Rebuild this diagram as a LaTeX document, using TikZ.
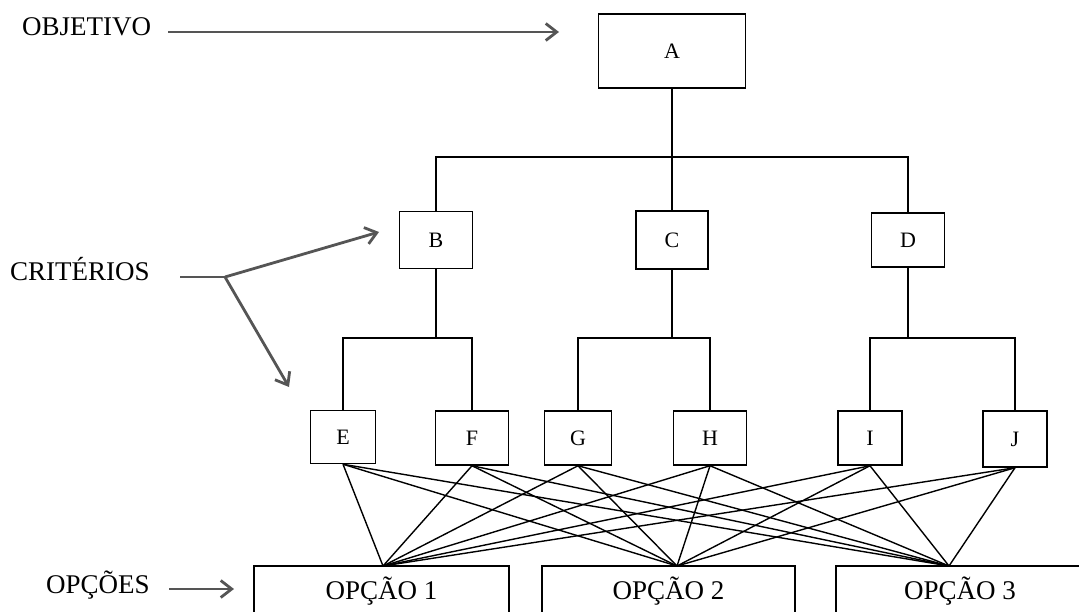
\documentclass[tikz,border=0pt]{standalone}
\usepackage{fontspec}
\setmainfont{Liberation Serif}
\usetikzlibrary{arrows.meta}
\definecolor{pointergray}{HTML}{555555}
\begin{document}
\begin{tikzpicture}[x=1pt,y=-1pt,
  box/.style={draw=black, line width=1.5pt, inner sep=0pt,
              font=\fontsize{22}{22}\selectfont},
  optbox/.style={draw=black, line width=1.5pt, inner sep=0pt,
              minimum height=50pt, font=\fontsize{27}{27}\selectfont},
  lbl/.style={inner sep=0pt, anchor=base west, font=\fontsize{27}{27}\selectfont},
  link/.style={draw=black, line width=1.5pt},
  pointer/.style={draw=pointergray, line width=2.8pt,
                  -{Straight Barb[length=11pt,width=17pt]}}]
\useasboundingbox (0,0) rectangle (1079,612);
\clip (0,0) rectangle (1079,612);

% goal
\node[box, minimum width=147pt, minimum height=74pt] (A) at (672,51) {A};

% criteria
\node[box, minimum width=73pt, minimum height=57pt] (B) at (436,240) {B};
\node[box, minimum width=72pt, minimum height=58pt] (C) at (672,240) {C};
\node[box, minimum width=73pt, minimum height=54pt] (D) at (908,240) {D};

% sub-criteria
\node[box, minimum width=65pt, minimum height=53pt] (E) at (343,437) {E};
\node[box, minimum width=73pt, minimum height=54pt] (F) at (472,438) {F};
\node[box, minimum width=67pt, minimum height=54pt] (G) at (578,438) {G};
\node[box, minimum width=73pt, minimum height=54pt] (H) at (710,438) {H};
\node[box, minimum width=64pt, minimum height=54pt] (I) at (870,438) {I};
\node[box, minimum width=64pt, minimum height=56pt] (J) at (1015,439) {J};

% options
\node[optbox, minimum width=255pt] (O1) at (381.5,591) {OPÇÃO 1};
\node[optbox, minimum width=253pt] (O2) at (668.5,591) {OPÇÃO 2};
\node[optbox, minimum width=248pt] (O3) at (960,591) {OPÇÃO 3};

% tree connectors
\coordinate (a2) at (672,157);
\coordinate (b2) at (436,338);
\coordinate (c2) at (672,338);
\coordinate (d2) at (908,338);
\draw[link] (A.south) -- (C.north);
\draw[link] (B.north) |- (a2) -| (D.north);
\draw[link] (B.south) -- (b2);
\draw[link] (E.north) |- (b2) -| (F.north);
\draw[link] (C.south) -- (c2);
\draw[link] (G.north) |- (c2) -| (H.north);
\draw[link] (D.south) -- (d2);
\draw[link] (I.north) |- (d2) -| (J.north);

% every sub-criterion linked to every option
\coordinate (p1) at (383,566);
\coordinate (p2) at (677,566);
\coordinate (p3) at (949,566);
\foreach \c in {E,F,G,H,I,J}
  \foreach \p in {p1,p2,p3}
    \draw[link, line width=1.4pt] (\c.south) -- (\p);

% level labels
\node[lbl] (obj) at (22,36) {OBJETIVO};
\node[lbl] (crit) at (10,281) {CRITÉRIOS};
\node[lbl] (opc) at (46,593) {OPÇÕES};

\coordinate (objs) at (168,32);
\coordinate (objt) at (559,32);
\draw[pointer] (objs) -- (objt);

\coordinate (crs) at (180,277);
\coordinate (crk) at (225,277);
\coordinate (crt1) at (379,232);
\coordinate (crt2) at (289,387);
\draw[draw=pointergray, line width=2.8pt] (crs) -- (crk);
\draw[pointer] (crk) -- (crt1);
\draw[pointer] (crk) -- (crt2);

\coordinate (ops) at (169,589);
\coordinate (opt) at (234,589);
\draw[pointer] (ops) -- (opt);
\end{tikzpicture}
\end{document}
